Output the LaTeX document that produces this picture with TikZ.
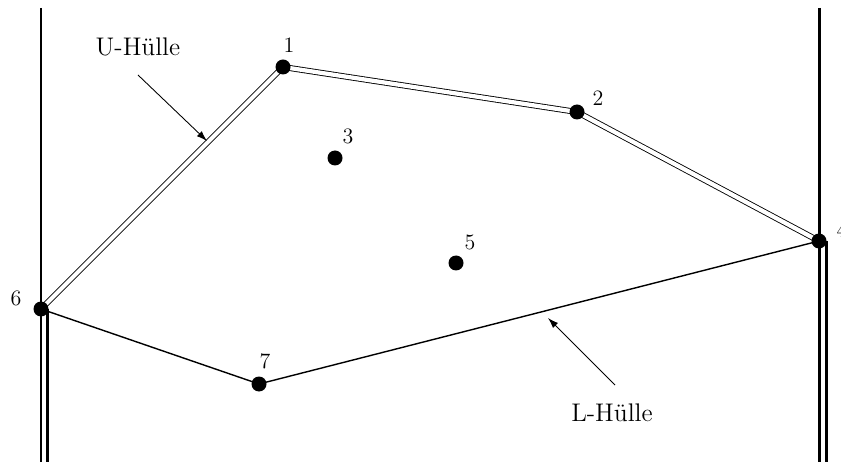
\documentclass[tikz,border=0pt]{standalone}
\usetikzlibrary{arrows.meta}
\begin{document}
\begin{tikzpicture}[x=0.02cm, y=-0.02cm,
        dot/.style={radius=7.5},
        num/.style={font=\fontsize{12.5}{14}\selectfont, inner sep=0pt},
        hull/.style={font=\fontsize{14.5}{17}\selectfont, inner sep=0pt},
        pointer/.style={-{Latex[length=6pt,width=4pt]}, line width=0.5pt},
        wall/.style={line width=1.7pt}]
            \useasboundingbox (0,0) rectangle (841,462);
            \coordinate (P1) at (283, 67);
            \coordinate (P2) at (577, 112);
            \coordinate (P3) at (335, 158);
            \coordinate (P4) at (819, 241);
            \coordinate (P5) at (456, 263);
            \coordinate (P6) at (41, 309);
            \coordinate (P7) at (259, 384);
            % walls
            \coordinate (LT) at (41, 8);
            \coordinate (RT) at (819, 8);
            \draw[wall] (LT) -- (P6);
            \draw[wall] (RT) -- (P4);
            \draw[wall] (P6) -- ++(0,153);
            \draw[wall] ([xshift=3.5pt]P6) -- ++(0,153);
            \draw[wall] (P4) -- ++(0,221);
            \draw[wall] ([xshift=4.3pt]P4) -- ++(0,221);
            % upper and lower hull
            \draw[line width=0.5pt, double=white, double distance=2.4pt] (P6) -- (P1) -- (P2) -- (P4);
            \draw[line width=0.8pt] (P6) -- (P7) -- (P4);
            \fill (P1) circle[dot];
            \fill (P2) circle[dot];
            \fill (P3) circle[dot];
            \fill (P4) circle[dot];
            \fill (P5) circle[dot];
            \fill (P6) circle[dot];
            \fill (P7) circle[dot];
            \node[num] at (289, 45) {1};
            \node[num] at (598, 98) {2};
            \node[num] at (348, 136) {3};
            \node[num] at (842, 230) {4};
            \node[num] at (16, 298) {6};
            \node[num] at (470, 242) {5};
            \node[num] at (265, 361) {7};
            % labels
            \node[hull] (UH) at (138, 47) {U-H\"ulle};
            \node[hull] (LH) at (612, 413) {L-H\"ulle};
            \coordinate (UA) at (138, 75);
            \coordinate (UB) at (207, 141);
            \coordinate (LA) at (615, 385);
            \coordinate (LB) at (548, 318);
            \draw[pointer] (UA) -- (UB);
            \draw[pointer] (LA) -- (LB);
        \end{tikzpicture}
\end{document}
